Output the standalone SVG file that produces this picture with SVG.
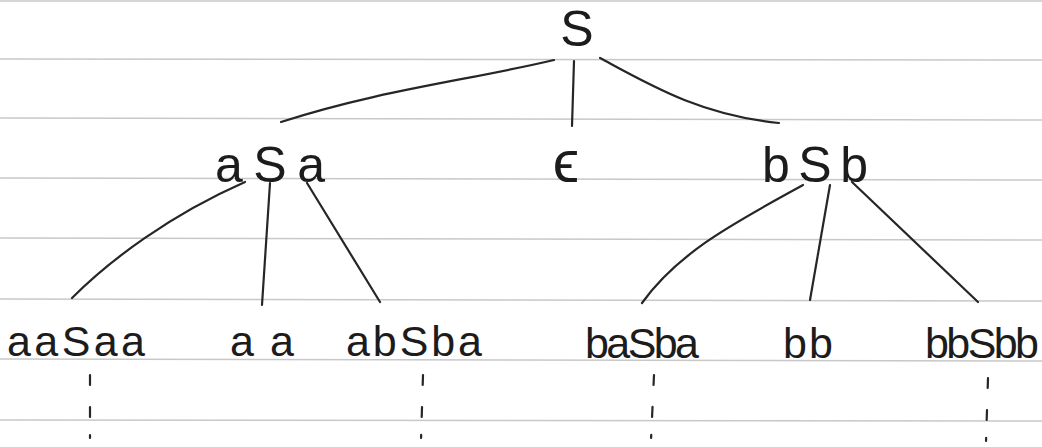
<svg xmlns="http://www.w3.org/2000/svg" width="1042" height="447" viewBox="0 0 1042 447">
<style>
.rule{stroke:#c8c8c8;stroke-width:1.5}
.edge{fill:none;stroke:#262626;stroke-width:2.2;stroke-linecap:round}
.dots{fill:none;stroke:#262626;stroke-width:2.2;stroke-dasharray:10 22 10 18 3 100;stroke-linecap:round}
.lbl{font-family:"Liberation Sans",Arial,sans-serif;fill:#1c1c1c;text-anchor:middle}
.big{font-size:50px}
.sm{font-size:43px}
</style>
<rect width="1042" height="447" fill="#ffffff"/>
<g id="paper">
<line class="rule" x1="0" y1="1" x2="1042" y2="1"/>
<line class="rule" x1="0" y1="59" x2="1042" y2="60"/>
<line class="rule" x1="0" y1="118" x2="1042" y2="120"/>
<line class="rule" x1="0" y1="178" x2="1042" y2="180"/>
<line class="rule" x1="0" y1="238" x2="1042" y2="240"/>
<line class="rule" x1="0" y1="299" x2="1042" y2="301"/>
<line class="rule" x1="0" y1="359" x2="1042" y2="361"/>
<line class="rule" x1="0" y1="420" x2="1042" y2="421"/>
</g>
<g id="connectors">
<path class="edge" d="M554,60 C470,80 380,90 281,122"/>
<path class="edge" d="M574,61 L572,126"/>
<path class="edge" d="M600,58 C650,85 700,115 779,123"/>
<path class="edge" d="M245,182 C170,215 110,260 72,298"/>
<path class="edge" d="M270,183 L262,305"/>
<path class="edge" d="M307,183 L380,302"/>
<path class="edge" d="M803,185 C740,220 680,250 642,303"/>
<path class="edge" d="M830,185 L810,300"/>
<path class="edge" d="M852,182 L978,302"/>
<path class="dots" d="M90,375 L90,440"/>
<path class="dots" d="M423,375 L421,440"/>
<path class="dots" d="M654,375 L651,440"/>
<path class="dots" d="M988,378 L986,442"/>
</g>
<g id="n-S"><text class="lbl big" x="577" y="46">S</text></g>
<g id="n-aSa"><text class="lbl big" x="270" y="182" textLength="110" lengthAdjust="spacing">aSa</text></g>
<g id="n-eps"><text class="lbl" style="font-size:60px" x="566" y="182">ϵ</text></g>
<g id="n-bSb"><text class="lbl big" x="815" y="182" textLength="106" lengthAdjust="spacing">bSb</text></g>
<g id="n-aaSaa"><text class="lbl sm" x="76" y="356" textLength="138" lengthAdjust="spacing">aaSaa</text></g>
<g id="n-aa"><text class="lbl sm" x="262" y="356" textLength="64" lengthAdjust="spacing">aa</text></g>
<g id="n-abSba"><text class="lbl sm" x="414" y="356" textLength="136" lengthAdjust="spacing">abSba</text></g>
<g id="n-baSba"><text class="lbl sm" x="642" y="358" textLength="114" lengthAdjust="spacing">baSba</text></g>
<g id="n-bb"><text class="lbl sm" x="808" y="358" textLength="50" lengthAdjust="spacing">bb</text></g>
<g id="n-bbSbb"><text class="lbl sm" x="982" y="358" textLength="114" lengthAdjust="spacing">bbSbb</text></g>
</svg>
